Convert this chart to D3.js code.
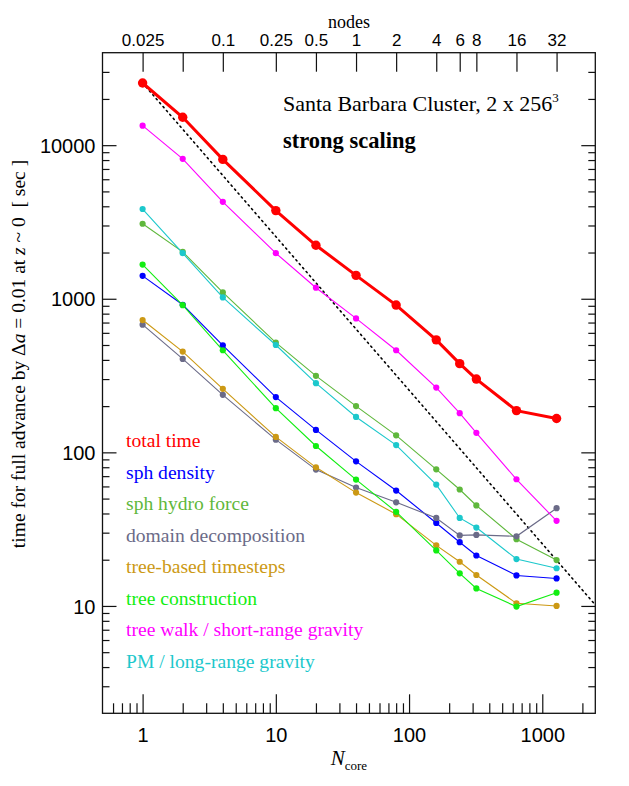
<!DOCTYPE html>
<html>
<head>
<meta charset="utf-8">
<script src="https://cdn.jsdelivr.net/npm/d3@7"></script>
<style>
  html, body { margin: 0; padding: 0; background: #fff; }
  svg { display: block; }
</style>
</head>
<body>
<script>
// ---------------- data ----------------
const ncore = [1, 2, 4, 10, 20, 40, 80, 160, 240, 320, 640, 1280];
const nodeLabels = ["0.025", "", "0.1", "0.25", "0.5", "1", "2", "4", "6", "8", "16", "32"];
const seriesNames = ["total time", "sph density", "sph hydro force", "domain decomposition",
  "tree-based timesteps", "tree construction", "tree walk / short-range gravity", "PM / long-range gravity"];
const seriesColors = ["#ff0000", "#0000ff", "#5fb83c", "#6b6b88", "#cc9914", "#11ee11", "#ff00ff", "#1cc8cc"];
const totalTime        = [25400, 15200, 8080, 3750, 2230, 1420, 910, 540, 378, 300, 187, 166];
const sphDensity       = [1410, 914, 498, 229, 140, 87.4, 56.4, 34.7, 26.0, 21.3, 15.8, 15.1];
const sphHydro         = [3080, 2020, 1100, 518, 315, 200, 129, 77.5, 57.3, 45.1, 27.2, 19.9];
const domainDecomp     = [678, 406, 237, 121, 77.2, 59.0, 47.3, 37.4, 28.8, 29.0, 28.4, 43.3];
const timesteps        = [727, 453, 259, 126, 79.9, 54.7, 39.6, 24.8, 19.4, 15.9, 10.4, 10.0];
const treeConstruction = [1670, 908, 462, 194, 110, 66.5, 41.0, 23.0, 16.3, 13.0, 9.9, 12.2];
const treeWalk         = [13400, 8150, 4280, 1980, 1180, 745, 462, 264, 180, 134, 66.8, 35.8];
const pmGravity        = [3840, 1980, 1020, 500, 282, 170, 111.5, 61.7, 37.4, 32.4, 20.2, 17.6];
const seriesValues = [totalTime, sphDensity, sphHydro, domainDecomp, timesteps, treeConstruction, treeWalk, pmGravity];
const xMajorTicks = [1, 10, 100, 1000];
const xMinorTicks = [0.6, 0.7, 0.8, 0.9, 2, 3, 4, 5, 6, 7, 8, 9, 20, 30, 40, 50, 60, 70, 80, 90,
  200, 300, 400, 500, 600, 700, 800, 900, 2000];
const yMajorTicks = [10, 100, 1000, 10000];
const yMinorTicks = [3, 4, 5, 6, 7, 8, 9, 20, 30, 40, 50, 60, 70, 80, 90, 200, 300, 400, 500, 600, 700, 800, 900,
  2000, 3000, 4000, 5000, 6000, 7000, 8000, 9000, 20000, 30000];
const xDomain = [0.5, 2500];
const yDomain = [2, 40000];
const idealEnd = 2500;

// ---------------- layout ----------------
const W = 629, H = 786;
const L = 102.5, R = 595.3, T = 52.7, B = 713.3;
const serif = "'Liberation Serif', 'Times New Roman', serif";
const sans = "'Liberation Sans', Arial, Helvetica, sans-serif";

const svg = d3.select("body").append("svg").attr("width", W).attr("height", H);

const x = d3.scaleLog().domain(xDomain).range([L, R]);
const y = d3.scaleLog().domain(yDomain).range([B, T]);

// axes
function styleAxis(g) {
  g.select(".domain").remove();
  g.selectAll(".tick line").attr("stroke", "#111").attr("stroke-width", 1.2);
  g.selectAll(".tick text").attr("font-family", sans).attr("fill", "#000");
}
svg.append("g").attr("transform", `translate(0,${B})`)
  .call(d3.axisBottom(x).tickValues(xMinorTicks).tickSize(-10).tickFormat(""))
  .call(styleAxis);
svg.append("g").attr("transform", `translate(0,${B})`)
  .call(d3.axisBottom(x).tickValues(xMajorTicks).tickSize(-19).tickFormat(d3.format("d")))
  .call(styleAxis)
  .call(g => g.selectAll(".tick text").attr("font-size", 20).attr("dy", "0.71em").attr("y", 15));
// top axis: nodes
svg.append("g").attr("transform", `translate(0,${T})`)
  .call(d3.axisTop(x).tickValues(ncore).tickSize(-19).tickFormat((d, i) => nodeLabels[i]))
  .call(styleAxis)
  .call(g => g.selectAll(".tick text").attr("font-size", 17).attr("y", -7).attr("dy", 0));
// left axis
svg.append("g").attr("transform", `translate(${L},0)`)
  .call(d3.axisLeft(y).tickValues(yMinorTicks).tickSize(-7).tickFormat(""))
  .call(styleAxis);
svg.append("g").attr("transform", `translate(${L},0)`)
  .call(d3.axisLeft(y).tickValues(yMajorTicks).tickSize(-14).tickFormat(d3.format("d")))
  .call(styleAxis)
  .call(g => g.selectAll(".tick text").attr("font-size", 20).attr("x", -7).attr("dy", "0.36em"));
// right axis
svg.append("g").attr("transform", `translate(${R},0)`)
  .call(d3.axisRight(y).tickValues(yMinorTicks).tickSize(-7).tickFormat(""))
  .call(styleAxis);
svg.append("g").attr("transform", `translate(${R},0)`)
  .call(d3.axisRight(y).tickValues(yMajorTicks).tickSize(-14).tickFormat(""))
  .call(styleAxis);

// frame
svg.append("rect").attr("x", L).attr("y", T).attr("width", R - L).attr("height", B - T)
  .attr("fill", "none").attr("stroke", "#111").attr("stroke-width", 1.3);

// ideal scaling (dotted)
const plot = svg.append("g");
plot.append("line")
  .attr("x1", x(ncore[0])).attr("y1", y(totalTime[0]))
  .attr("x2", x(idealEnd)).attr("y2", y(totalTime[0] * ncore[0] / idealEnd))
  .attr("stroke", "#000").attr("stroke-width", 1.6)
  .attr("stroke-dasharray", "1.4,3.8").attr("stroke-linecap", "round");

const line = d3.line().x((d, i) => x(ncore[i])).y(d => y(d));
seriesValues.forEach((vals, s) => {
  const g = plot.append("g");
  const main = s === 0;
  g.append("path").attr("d", line(vals)).attr("fill", "none")
    .attr("stroke", seriesColors[s]).attr("stroke-width", main ? 3 : 1.1);
  g.selectAll("circle").data(vals).join("circle")
    .attr("cx", (d, i) => x(ncore[i])).attr("cy", d => y(d))
    .attr("r", main ? 4.7 : 3.1).attr("fill", seriesColors[s]);
});

// legend
seriesNames.forEach((name, i) => {
  svg.append("text").attr("x", 126).attr("y", 447.3 + i * 31.5)
    .attr("font-family", serif).attr("font-size", 19.6).attr("fill", seriesColors[i]).text(name);
});

// annotations
const t1 = svg.append("text").attr("x", 283).attr("y", 110.7)
  .attr("font-family", serif).attr("font-size", 22).attr("fill", "#000");
t1.append("tspan").text("Santa Barbara Cluster, 2 x 256");
t1.append("tspan").attr("font-size", 13).attr("dy", -9).text("3");
svg.append("text").attr("x", 283).attr("y", 148.3)
  .attr("font-family", serif).attr("font-size", 22.5).attr("font-weight", "bold").attr("fill", "#000")
  .text("strong scaling");

// axis titles
svg.append("text").attr("x", (L + R) / 2).attr("y", 27.5).attr("text-anchor", "middle")
  .attr("font-family", serif).attr("font-size", 18).text("nodes");
const xt = svg.append("text").attr("x", (L + R) / 2).attr("y", 765).attr("text-anchor", "middle")
  .attr("font-family", serif).attr("font-size", 21);
xt.append("tspan").attr("font-style", "italic").text("N");
xt.append("tspan").attr("font-size", 13).attr("dy", 5).text("core");

const yt = svg.append("text")
  .attr("transform", `translate(25,354) rotate(-90)`)
  .attr("text-anchor", "middle").attr("font-family", serif).attr("font-size", 19.5);
yt.append("tspan").text("time for full advance by \u0394");
yt.append("tspan").attr("font-style", "italic").text("a");
yt.append("tspan").text(" = 0.01 at ");
yt.append("tspan").attr("font-style", "italic").text("z");
yt.append("tspan").text(" ~ 0 \u00a0[ sec ]");
</script>
</body>
</html>
